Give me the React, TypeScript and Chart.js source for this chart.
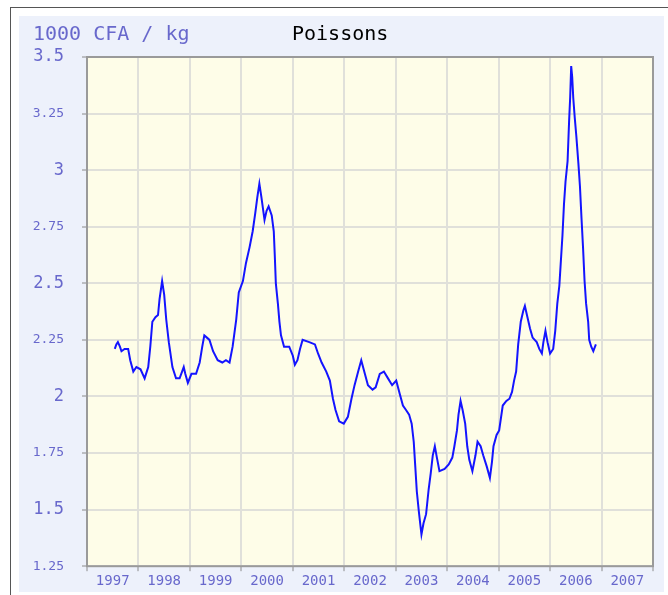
import React, { useEffect, useRef } from "react";
import { Chart, registerables } from "chart.js";

Chart.register(...registerables);

// Decimal year of each observation
const DATES = [
  1997.54, 1997.57, 1997.60, 1997.64, 1997.67, 1997.73, 1997.80, 1997.84, 1997.90, 1997.96,
  1998.04, 1998.12, 1998.19, 1998.23, 1998.27, 1998.33, 1998.38, 1998.41, 1998.46, 1998.50,
  1998.54, 1998.59, 1998.66, 1998.73, 1998.80, 1998.88, 1998.91, 1998.96, 1999.03, 1999.12,
  1999.19, 1999.24, 1999.28, 1999.33, 1999.38, 1999.45, 1999.54, 1999.63, 1999.70, 1999.77,
  1999.83, 1999.90, 1999.95, 2000.03, 2000.09, 2000.16, 2000.22, 2000.27, 2000.31, 2000.35,
  2000.39, 2000.45, 2000.49, 2000.53, 2000.59, 2000.63, 2000.65, 2000.67, 2000.71, 2000.74,
  2000.77, 2000.83, 2000.93, 2001.00, 2001.04, 2001.09, 2001.14, 2001.19, 2001.32, 2001.43,
  2001.49, 2001.56, 2001.65, 2001.72, 2001.78, 2001.83, 2001.90, 2001.99, 2002.07, 2002.14,
  2002.20, 2002.27, 2002.33, 2002.40, 2002.46, 2002.55, 2002.61, 2002.69, 2002.77, 2002.85,
  2002.93, 2003.01, 2003.08, 2003.14, 2003.20, 2003.26, 2003.31, 2003.35, 2003.38, 2003.41,
  2003.45, 2003.50, 2003.54, 2003.59, 2003.64, 2003.68, 2003.72, 2003.76, 2003.80, 2003.85,
  2003.95, 2004.03, 2004.10, 2004.14, 2004.19, 2004.22, 2004.26, 2004.30, 2004.35, 2004.39,
  2004.43, 2004.49, 2004.55, 2004.59, 2004.65, 2004.70, 2004.77, 2004.83, 2004.87, 2004.90,
  2004.96, 2005.01, 2005.08, 2005.15, 2005.21, 2005.26, 2005.30, 2005.34, 2005.38, 2005.43,
  2005.48, 2005.51, 2005.56, 2005.61, 2005.66, 2005.74, 2005.79, 2005.84, 2005.87, 2005.91,
  2005.95, 2006.00, 2006.06, 2006.10, 2006.14, 2006.18, 2006.21, 2006.24, 2006.27, 2006.30,
  2006.34, 2006.37, 2006.39, 2006.41, 2006.43, 2006.45, 2006.48, 2006.51, 2006.55, 2006.58,
  2006.61, 2006.64, 2006.67, 2006.70, 2006.74, 2006.76, 2006.80, 2006.84, 2006.89,
];

// Price, 1000 CFA / kg
const PRICES = [
  2.21, 2.23, 2.24, 2.22, 2.20, 2.21, 2.21, 2.16, 2.11, 2.13,
  2.12, 2.08, 2.13, 2.22, 2.33, 2.35, 2.36, 2.43, 2.51, 2.45,
  2.34, 2.24, 2.13, 2.08, 2.08, 2.13, 2.10, 2.06, 2.10, 2.10,
  2.15, 2.22, 2.27, 2.26, 2.25, 2.20, 2.16, 2.15, 2.16, 2.15,
  2.22, 2.34, 2.46, 2.51, 2.59, 2.66, 2.73, 2.81, 2.88, 2.94,
  2.88, 2.78, 2.82, 2.84, 2.80, 2.73, 2.62, 2.50, 2.41, 2.33,
  2.27, 2.22, 2.22, 2.18, 2.14, 2.16, 2.21, 2.25, 2.24, 2.23,
  2.19, 2.15, 2.11, 2.07, 1.99, 1.94, 1.89, 1.88, 1.91, 1.99,
  2.05, 2.11, 2.16, 2.10, 2.05, 2.03, 2.04, 2.10, 2.11, 2.08,
  2.05, 2.07, 2.01, 1.96, 1.94, 1.92, 1.88, 1.80, 1.69, 1.58,
  1.49, 1.39, 1.44, 1.48, 1.59, 1.66, 1.74, 1.78, 1.73, 1.67,
  1.68, 1.70, 1.73, 1.78, 1.85, 1.92, 1.98, 1.94, 1.88, 1.78,
  1.72, 1.67, 1.74, 1.80, 1.78, 1.74, 1.69, 1.64, 1.71, 1.78,
  1.83, 1.85, 1.96, 1.98, 1.99, 2.02, 2.07, 2.11, 2.23, 2.33,
  2.38, 2.40, 2.35, 2.30, 2.26, 2.24, 2.21, 2.19, 2.24, 2.29,
  2.24, 2.19, 2.21, 2.29, 2.41, 2.49, 2.60, 2.71, 2.85, 2.95,
  3.04, 3.22, 3.32, 3.46, 3.41, 3.32, 3.23, 3.15, 3.03, 2.93,
  2.79, 2.66, 2.51, 2.41, 2.33, 2.25, 2.22, 2.20, 2.23,
];

const X_MIN = 1997;
const X_MAX = 2008;
const Y_MIN = 1.25;
const Y_MAX = 3.5;
const Y_STEP = 0.25;

const UNIT_LABEL = "1000 CFA / kg";
const TITLE = "Poissons";

const LABEL_COLOR = "#6868cc";
const MONO = "'DejaVu Sans Mono', monospace";

const isInt = (v: number) => Math.abs(v - Math.round(v)) < 1e-6;

export default function App() {
  const ref = useRef<HTMLCanvasElement | null>(null);

  useEffect(() => {
    if (!ref.current) return;
    const plotBg = {
      id: "plotBg",
      beforeDraw(chart: any) {
        const { ctx, chartArea } = chart;
        ctx.save();
        ctx.fillStyle = "#fefde8";
        ctx.fillRect(chartArea.left, chartArea.top, chartArea.right - chartArea.left, chartArea.bottom - chartArea.top);
        ctx.restore();
      },
      afterDraw(chart: any) {
        const { ctx, chartArea } = chart;
        ctx.save();
        ctx.strokeStyle = "#9a9a9a";
        ctx.lineWidth = 2;
        ctx.strokeRect(chartArea.left, chartArea.top, chartArea.right - chartArea.left, chartArea.bottom - chartArea.top);
        ctx.restore();
      },
    };

    const chart = new Chart(ref.current, {
      type: "line",
      data: {
        datasets: [
          {
            data: DATES.map((d, i) => ({ x: d, y: PRICES[i] })),
            borderColor: "#1414ff",
            borderWidth: 2,
            pointRadius: 0,
            tension: 0,
            fill: false,
          },
        ],
      },
      options: {
        responsive: false,
        animation: false,
        devicePixelRatio: 1,
        layout: { padding: { top: 41, right: 11, left: 0, bottom: 0 } },
        plugins: { legend: { display: false }, tooltip: { enabled: false }, title: { display: false } },
        scales: {
          x: {
            type: "linear",
            min: X_MIN,
            max: X_MAX,
            afterFit(scale: any) {
              scale.height = 25;
            },
            border: { display: false },
            grid: {
              color: (c: any) => (isInt(c.tick.value) ? "#e0e0da" : "rgba(0,0,0,0)"),
              lineWidth: 2,
              tickLength: 5,
              tickColor: (c: any) => (isInt(c.tick.value) ? "#8a8a8a" : "rgba(0,0,0,0)"),
              tickWidth: 1,
            },
            ticks: {
              stepSize: 0.5,
              autoSkip: false,
              maxRotation: 0,
              minRotation: 0,
              padding: 2,
              color: LABEL_COLOR,
              font: { family: MONO, size: 14 },
              callback: (v: any) => (isInt(Number(v)) ? "" : String(Math.floor(Number(v)))),
            },
          },
          y: {
            type: "linear",
            min: Y_MIN,
            max: Y_MAX,
            afterFit(scale: any) {
              scale.width = 68;
            },
            border: { display: false },
            grid: {
              color: "#e0e0da",
              lineWidth: 2,
              tickLength: 5,
              tickColor: "#8a8a8a",
              tickWidth: 1,
            },
            ticks: {
              stepSize: Y_STEP,
              padding: 18,
              color: LABEL_COLOR,
              font: (c: any) =>
                c.tick && isInt(c.tick.value * 2)
                  ? { family: MONO, size: 17 }
                  : { family: MONO, size: 13 },
              callback: (v: any) => String(v),
            },
          },
        },
      },
      plugins: [plotBg],
    } as any);
    return () => chart.destroy();
  }, []);

  return (
    <div style={{ position: "absolute", left: 0, top: 0, width: 668, height: 595, overflow: "hidden", background: "#fff" }}>
      <div
        style={{
          position: "absolute",
          left: 10,
          top: 7,
          width: 720,
          height: 700,
          borderLeft: "1px solid #555",
          borderTop: "1px solid #555",
        }}
      />
      <div style={{ position: "absolute", left: 19, top: 16, width: 645, height: 576, background: "#edf1fb" }}>
        <canvas ref={ref} width={645} height={576} style={{ display: "block", width: 645, height: 576 }} />
      </div>
      <div
        style={{
          position: "absolute",
          left: 33,
          top: 22,
          fontFamily: MONO,
          fontSize: 20,
          lineHeight: "22px",
          color: LABEL_COLOR,
          whiteSpace: "pre",
        }}
      >
        {UNIT_LABEL}
      </div>
      <div
        style={{
          position: "absolute",
          left: 292,
          top: 22,
          fontFamily: MONO,
          fontSize: 20,
          lineHeight: "22px",
          color: "#000",
          whiteSpace: "pre",
        }}
      >
        {TITLE}
      </div>
    </div>
  );
}
